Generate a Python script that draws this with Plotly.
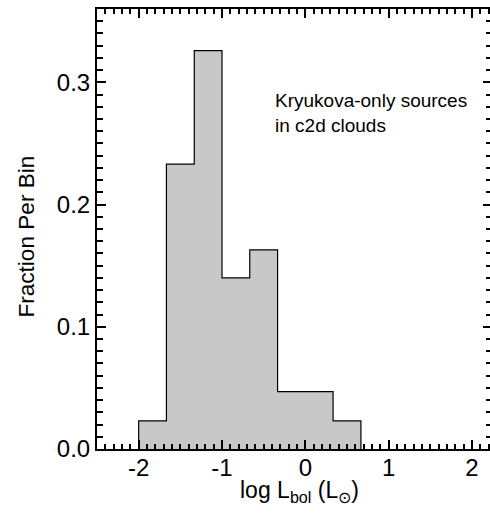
import plotly.graph_objects as go

# Histogram of log Lbol (bin edges and fraction per bin)
bin_edges = [-2.0, -1.667, -1.333, -1.0, -0.667, -0.333, 0.0, 0.333, 0.667]
fractions = [0.023, 0.233, 0.326, 0.140, 0.163, 0.047, 0.047, 0.023]

x_ticks = [-2, -1, 0, 1, 2]
y_ticks = [0.0, 0.1, 0.2, 0.3]

# step outline points built from the edges and values
step_x = [bin_edges[0]] + bin_edges
step_y = [0.0] + fractions + [0.0]

FONT = "Liberation Sans, Arial, Helvetica, sans-serif"

fig = go.Figure()
fig.add_trace(go.Scatter(
    x=step_x, y=step_y, mode="lines", line_shape="hv",
    line=dict(color="black", width=1.2),
    fill="tozeroy", fillcolor="#c8c8c8",
    hoverinfo="skip", showlegend=False,
))

# plot area runs slightly past the 490px window so the right frame line is cut off
fig.update_layout(
    width=494, height=515,
    margin=dict(l=97, r=0, t=9, b=66),
    paper_bgcolor="white", plot_bgcolor="white",
    font=dict(family=FONT, color="black", size=24),
    showlegend=False,
    xaxis=dict(
        range=[-2.5, 2.24], tickvals=x_ticks, ticktext=[str(v) for v in x_ticks],
        ticks="inside", ticklen=9, tickwidth=2, tickcolor="black",
        showline=True, linewidth=2, linecolor="black", mirror="ticks",
        showgrid=False, zeroline=False, ticklabelstandoff=-4,
        minor=dict(dtick=0.1, ticks="inside", ticklen=5, tickwidth=1.5,
                   tickcolor="black", showgrid=False),
        tickfont=dict(size=24),
    ),
    yaxis=dict(
        range=[0, 0.36], tickvals=y_ticks, ticktext=[f"{v:.1f}" for v in y_ticks],
        ticks="inside", ticklen=9, tickwidth=2, tickcolor="black",
        showline=True, linewidth=2, linecolor="black", mirror="ticks",
        showgrid=False, zeroline=False,
        minor=dict(dtick=0.01, ticks="inside", ticklen=6, tickwidth=1.5,
                   tickcolor="black", showgrid=False),
        tickfont=dict(size=24),
    ),
    annotations=[
        dict(text="Kryukova-only sources<br>in c2d clouds", xref="paper", yref="paper",
             x=0.446, y=0.7636, xanchor="left", yanchor="middle", align="left",
             showarrow=False, font=dict(size=19)),
        dict(text="Fraction Per Bin", xref="paper", yref="paper",
             x=-0.178, y=0.482, xanchor="center", yanchor="middle", textangle=-90,
             showarrow=False, font=dict(size=22.6)),
        dict(text="log L<sub>bol</sub> (L<sub>\u2299</sub>)", xref="paper", yref="paper",
             x=0.5115, y=-0.0977, xanchor="center", yanchor="middle",
             showarrow=False, font=dict(size=23)),
    ],
)

fig.write_html(
    "out.html",
    config={"displayModeBar": False},
    post_script=("document.body.style.margin='0';"
                 "document.body.style.overflow='hidden';"
                 "document.documentElement.style.overflow='hidden';"),
)
